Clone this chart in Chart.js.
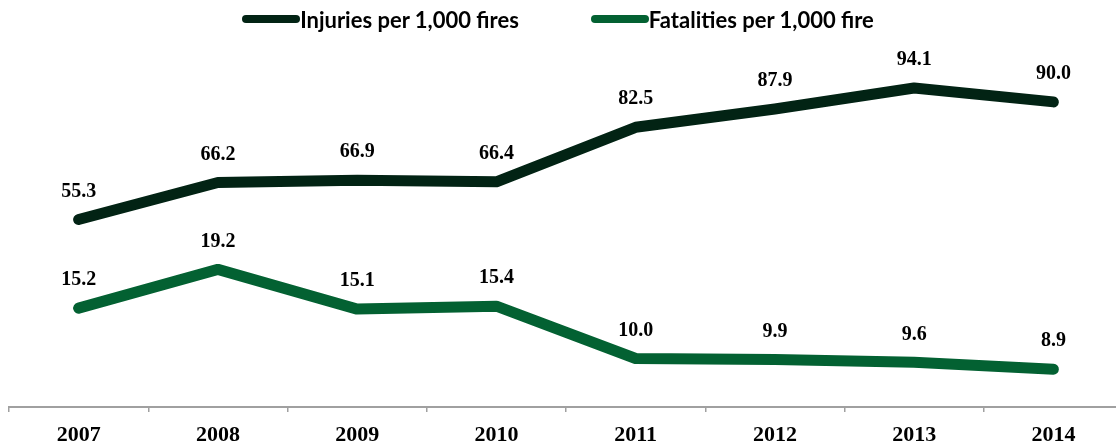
<!DOCTYPE html>
<html>
<head>
<meta charset="utf-8">
<script src="https://cdn.jsdelivr.net/npm/chart.js@4.4.1/dist/chart.umd.min.js"></script>
<style>
  html, body { margin: 0; padding: 0; background: #fff; overflow: hidden; }
  #wrap { position: relative; width: 1124px; height: 458px; }
  #leyenda {
    position: absolute; top: 0; left: 0; width: 1116px; height: 38px;
    display: flex; justify-content: center; align-items: center;
    font-family: Lato, sans-serif; font-weight: bold; font-size: 22px; color: #000;
  }
  .item { display: flex; align-items: center; margin: 0 36px; }
  .marca { display: inline-block; width: 58px; height: 8px; border-radius: 4px; }
</style>
</head>
<body>
<div id="wrap">
  <div id="leyenda"></div>
  <canvas id="grafica-incendios" width="1124" height="458"></canvas>
</div>
<script>
(function () {
  const anios = ["2007", "2008", "2009", "2010", "2011", "2012", "2013", "2014"];
  const lesionados = [55.3, 66.2, 66.9, 66.4, 82.5, 87.9, 94.1, 90.0];
  const muertes = [15.2, 19.2, 15.1, 15.4, 10.0, 9.9, 9.6, 8.9];
  const nombres = ["Injuries per 1,000 fires", "Fatalities per 1,000 fire"];
  const colores = ["#022314", "#036132"];

  const ctx = document.getElementById("grafica-incendios");

  // etiquetas de valor encima de cada punto
  const etiquetasValor = {
    id: "etiquetasValor",
    afterDatasetsDraw(chart) {
      const c = chart.ctx;
      c.save();
      c.font = "bold 20px 'Liberation Serif', serif";
      c.fillStyle = "#000";
      c.textAlign = "center";
      c.textBaseline = "middle";
      chart.data.datasets.forEach((ds, i) => {
        chart.getDatasetMeta(i).data.forEach((p, j) => {
          c.fillText(ds.data[j].toFixed(1), p.x, p.y - 28);
        });
      });
      c.restore();
    },
  };

  const grafica = new Chart(ctx, {
    type: "line",
    data: {
      labels: anios,
      datasets: [
        {
          label: nombres[0],
          data: lesionados,
          borderColor: colores[0],
          backgroundColor: colores[0],
          borderWidth: 11,
          borderCapStyle: "round",
          borderJoinStyle: "round",
          pointRadius: 0,
          yAxisID: "y",
        },
        {
          label: nombres[1],
          data: muertes,
          borderColor: colores[1],
          backgroundColor: colores[1],
          borderWidth: 11,
          borderCapStyle: "round",
          borderJoinStyle: "round",
          pointRadius: 0,
          yAxisID: "y2",
        },
      ],
    },
    options: {
      responsive: false,
      animation: false,
      layout: { padding: { top: 68, left: 9, right: 1, bottom: 0 } },
      plugins: {
        legend: { display: false },
        tooltip: { enabled: false },
      },
      scales: {
        x: {
          offset: true,
          grid: {
            offset: true,
            drawOnChartArea: false,
            drawTicks: true,
            tickLength: 5,
            color: "#a0a0a0",
            lineWidth: 1.5,
          },
          border: { color: "#a0a0a0", width: 2 },
          ticks: {
            padding: 11.5,
            color: "#000",
            font: { family: "'Liberation Serif', serif", weight: "bold", size: 22, lineHeight: 1.05 },
          },
        },
        y: { display: false, min: 0, max: 100 },
        y2: { display: false, min: 5, max: 40 },
      },
    },
    plugins: [etiquetasValor],
  });

  // leyenda en html
  const leyenda = document.getElementById("leyenda");
  grafica.data.datasets.forEach((ds) => {
    const item = document.createElement("div");
    item.className = "item";
    const marca = document.createElement("span");
    marca.className = "marca";
    marca.style.background = ds.borderColor;
    const texto = document.createElement("span");
    texto.textContent = ds.label;
    item.appendChild(marca);
    item.appendChild(texto);
    leyenda.appendChild(item);
  });
})();
</script>
</body>
</html>
